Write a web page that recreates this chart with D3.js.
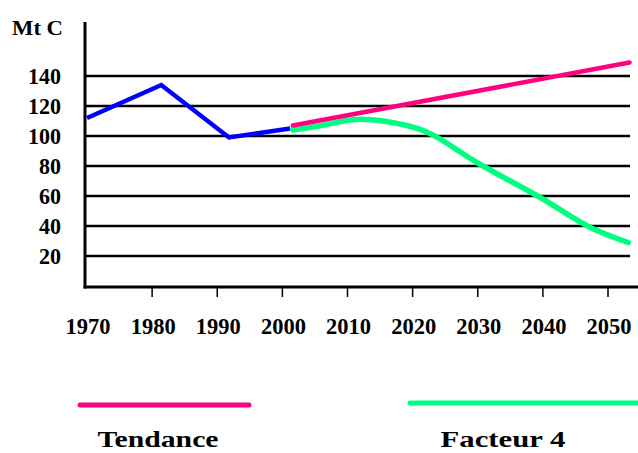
<!DOCTYPE html>
<html><head><meta charset="utf-8">
<script src="https://cdn.jsdelivr.net/npm/d3@7"></script>
<style>body{margin:0;background:#fff}svg{display:block}</style>
</head><body>
<svg id="c" width="638" height="453"></svg>
<script>
const yearTicks = [1970,1980,1990,2000,2010,2020,2030,2040,2050];
const valueTicks = [20,40,60,80,100,120,140];
const histYears = [1970, 1981.4, 1991.8, 2001.2];
const histValues = [112, 134, 99, 105];
const trendYears = [2001.6, 2053.3];
const trendValues = [107, 149];
const f4Years = [2001.6, 2006, 2011, 2015.5, 2022, 2030, 2039.6, 2047.3, 2053.1];
const f4Values = [104, 107, 111, 110, 103, 82, 59, 39, 29];
const legendLabels = ["Tendance", "Facteur 4"];
const unitLabel = "Mt C";

const svg = d3.select("#c");
const x = d3.scaleLinear().domain([1970,2050]).range([87,608]);
const y = d3.scaleLinear().domain([0,140]).range([286,76]);
const font = "'Liberation Serif','Times New Roman',serif";

svg.append("g").selectAll("line").data(valueTicks).join("line")
  .attr("x1",85).attr("x2",630).attr("y1",d=>y(d)).attr("y2",d=>y(d))
  .attr("stroke","#000").attr("stroke-width",2.5);
svg.append("line").attr("x1",85).attr("x2",85).attr("y1",22).attr("y2",288.5).attr("stroke","#000").attr("stroke-width",3);
svg.append("line").attr("x1",83.5).attr("x2",638).attr("y1",287).attr("y2",287).attr("stroke","#000").attr("stroke-width",3);
svg.append("g").selectAll("line").data(yearTicks.slice(1)).join("line")
  .attr("x1",d=>x(d)).attr("x2",d=>x(d)).attr("y1",288).attr("y2",297)
  .attr("stroke","#000").attr("stroke-width",1.5);
svg.append("g").selectAll("text").data(yearTicks).join("text")
  .attr("x",d=>x(d)+1).attr("y",334).attr("text-anchor","middle")
  .attr("font-family",font).attr("font-weight","bold").attr("font-size",23)
  .attr("textLength",45).attr("lengthAdjust","spacingAndGlyphs")
  .text(d=>d);
svg.append("g").selectAll("text").data(valueTicks).join("text")
  .attr("x",61).attr("y",d=>y(d)+8).attr("text-anchor","end")
  .attr("font-family",font).attr("font-weight","bold").attr("font-size",23)
  .attr("textLength",d=>String(d).length*11).attr("lengthAdjust","spacingAndGlyphs")
  .text(d=>d);
svg.append("text").attr("x",12).attr("y",35)
  .attr("font-family",font).attr("font-weight","bold").attr("font-size",22)
  .attr("textLength",51).attr("lengthAdjust","spacingAndGlyphs").text(unitLabel);

const line = d3.line().x(d=>x(d[0])).y(d=>y(d[1]));
const smooth = d3.line().x(d=>x(d[0])).y(d=>y(d[1])).curve(d3.curveCatmullRom);
svg.append("path").datum(histYears.map((d,i)=>[d,histValues[i]]))
  .attr("d",line).attr("fill","none").attr("stroke","#0000ff").attr("stroke-width",4.5).attr("stroke-linejoin","miter");
svg.append("path").datum(f4Years.map((d,i)=>[d,f4Values[i]]))
  .attr("d",smooth).attr("fill","none").attr("stroke","#00ff80").attr("stroke-width",5.5).attr("stroke-linecap","round");
svg.append("path").datum(trendYears.map((d,i)=>[d,trendValues[i]]))
  .attr("d",line).attr("fill","none").attr("stroke","#ff0080").attr("stroke-width",4.5).attr("stroke-linecap","round");

const leg = [{c:"#ff0080",x1:80,x2:249,ly:405,tx:158},{c:"#00ff80",x1:410,x2:640,ly:403,tx:503}];
leg.forEach((l,i)=>{
  svg.append("line").attr("x1",l.x1).attr("x2",l.x2).attr("y1",l.ly).attr("y2",l.ly)
    .attr("stroke",l.c).attr("stroke-width",5).attr("stroke-linecap","round");
  svg.append("text").attr("x",l.tx).attr("y",447).attr("text-anchor","middle")
    .attr("font-family",font).attr("font-weight","bold").attr("font-size",24)
    .attr("textLength",i===0?121:125).attr("lengthAdjust","spacingAndGlyphs")
    .text(legendLabels[i]);
});
</script>
</body></html>
